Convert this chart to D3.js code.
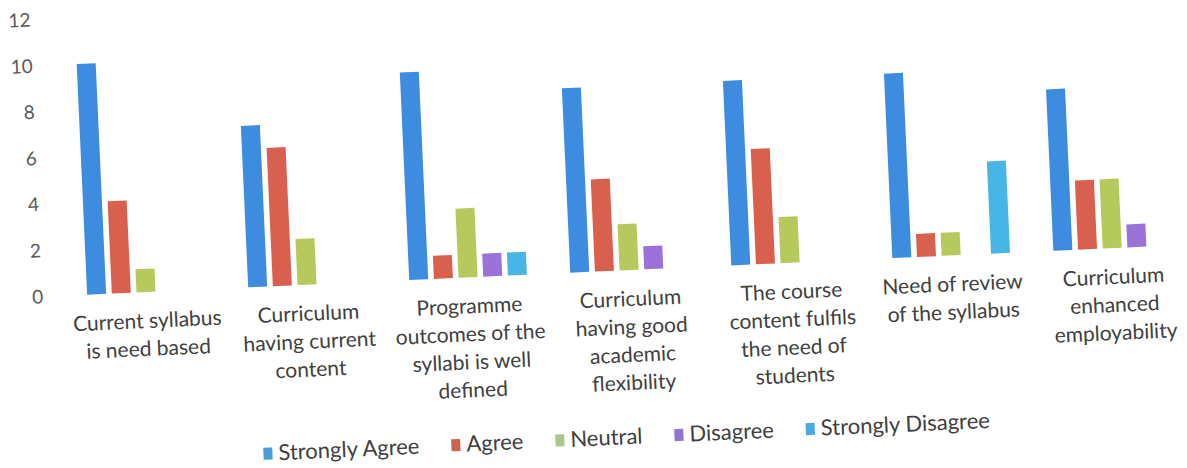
<!DOCTYPE html>
<html>
<head>
<meta charset="utf-8">
<script src="https://cdn.jsdelivr.net/npm/d3@7/dist/d3.min.js"></script>
<style>
  html, body { margin: 0; padding: 0; background: #fff; }
  svg { display: block; }
</style>
</head>
<body>
<svg id="chart" width="1187" height="468"></svg>
<script>
// ---- data ----
const categories = [
  ["Current syllabus", "is need based"],
  ["Curriculum", "having current", "content"],
  ["Programme", "outcomes of the", "syllabi is well", "defined"],
  ["Curriculum", "having good", "academic", "flexibility"],
  ["The course", "content fulfils", "the need of", "students"],
  ["Need of review", "of the syllabus"],
  ["Curriculum", "enhanced", "employability"]
];
const seriesNames = ["Strongly Agree", "Agree", "Neutral", "Disagree", "Strongly Disagree"];
const stronglyAgree    = [10, 7, 9, 8, 8, 8, 7];
const agree            = [4, 6, 1, 4, 5, 1, 3];
const neutral          = [1, 2, 3, 2, 2, 1, 3];
const disagree         = [0, 0, 1, 1, 0, 0, 1];
const stronglyDisagree = [0, 0, 1, 0, 0, 4, 0];
const yTicks = [0, 2, 4, 6, 8, 10, 12];

const seriesValues = [stronglyAgree, agree, neutral, disagree, stronglyDisagree];
const barColors = ["#3d8ce0", "#d9604f", "#b5c95c", "#9a72d8", "#47b6e6"];
const legendColors = ["#4a9fd8", "#cc6252", "#a9c98c", "#9272d2", "#4aaae0"];

// ---- layout (unrotated frame, then the whole chart is tilted like the scan) ----
const svg = d3.select("#chart");
const font = "Lato, 'Open Sans', sans-serif";
const baseY = 292;
const angle = -2.6;
const pivotX = 146, pivotY = 292;

const g = svg.append("g").attr("transform", `rotate(${angle},${pivotX},${pivotY})`);

const groupStep = 161.2;
const x0 = d3.scaleBand()
  .domain(d3.range(categories.length))
  .range([146 - groupStep / 2, 146 - groupStep / 2 + groupStep * categories.length])
  .paddingInner(0.269).paddingOuter(0.1345);
const x1 = d3.scaleBand()
  .domain(d3.range(seriesNames.length))
  .range([0, x0.bandwidth()])
  .paddingInner(0.23);

const y = d3.scaleLinear().domain([0, 12]).range([baseY, baseY - 277]);

// y-axis labels
const yAxis = d3.axisLeft(y).tickValues(yTicks).tickSize(0).tickPadding(0);
const yG = g.append("g").attr("transform", "translate(43,0)").call(yAxis);
yG.select(".domain").remove();
yG.selectAll("text")
  .attr("font-family", font).attr("font-size", 19).attr("fill", "#595959");

// bars
const groups = g.selectAll(".grp").data(categories).join("g")
  .attr("class", "grp")
  .attr("transform", (d, i) => `translate(${x0(i)},0)`);

groups.selectAll("rect")
  .data((d, i) => seriesValues.map((s, k) => ({ k, v: s[i] })).filter(e => e.v > 0))
  .join("rect")
  .attr("x", d => x1(d.k))
  .attr("width", x1.bandwidth())
  .attr("y", d => y(d.v))
  .attr("height", d => y(0) - y(d.v))
  .attr("fill", d => barColors[d.k]);

// category labels
groups.append("text")
  .attr("text-anchor", "middle")
  .attr("font-family", font).attr("font-size", 21).attr("fill", "#404040")
  .selectAll("tspan").data(d => d).join("tspan")
  .attr("x", x0.bandwidth() / 2)
  .attr("y", (d, j) => baseY + 36 + j * 28)
  .text(d => d);

// legend
const legendY = 459;
const legend = g.append("g");
let lx = 256;
seriesNames.forEach((name, k) => {
  const item = legend.append("g").attr("transform", `translate(${lx},${legendY})`);
  item.append("rect").attr("x", 0).attr("y", -6).attr("width", 9).attr("height", 12)
    .attr("fill", legendColors[k]);
  const t = item.append("text").attr("x", 15).attr("y", 7)
    .attr("font-family", font).attr("font-size", 22).attr("fill", "#404040")
    .text(name);
  const w = t.node().getComputedTextLength();
  lx += 15 + w + 32;
});
</script>
</body>
</html>
